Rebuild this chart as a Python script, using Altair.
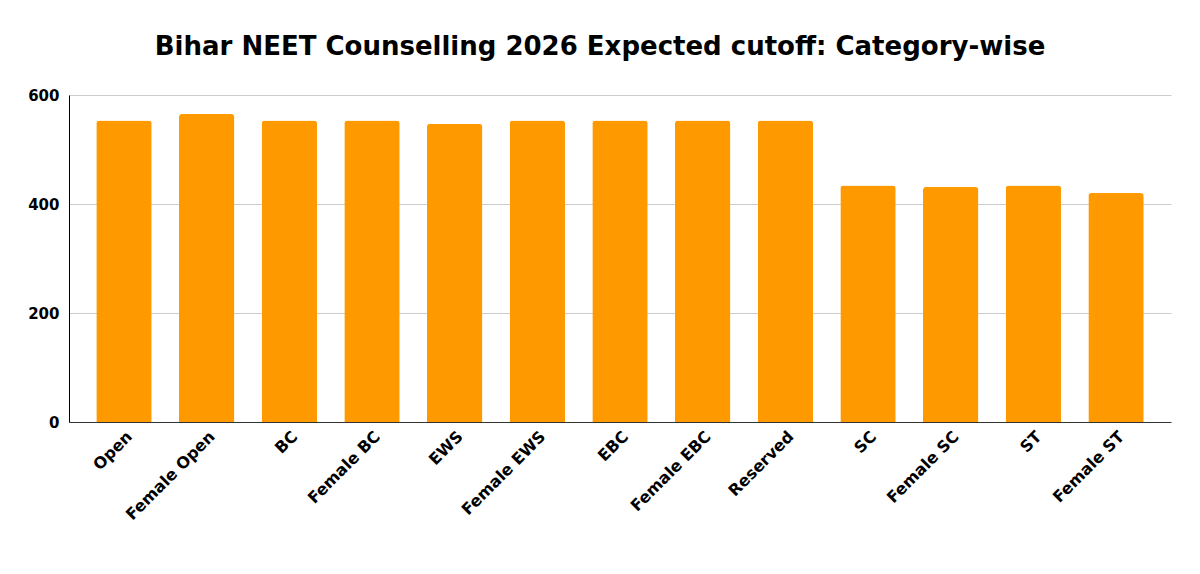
import altair as alt
import pandas as pd

categories = ["Open", "Female Open", "BC", "Female BC", "EWS", "Female EWS",
              "EBC", "Female EBC", "Reserved", "SC", "Female SC", "ST", "Female ST"]
cutoffs = [553, 565, 553, 553, 547, 553, 553, 553, 553, 434, 431, 434, 420]
y_ticks = [0, 200, 400, 600]

df = pd.DataFrame({"Category": categories, "Cutoff": cutoffs})

FONT = "DejaVu Sans"

chart = alt.Chart(df).mark_bar(
    color="#FF9900",
    cornerRadiusTopLeft=3,
    cornerRadiusTopRight=3,
).encode(
    x=alt.X("Category:N", sort=categories, title=None,
            scale=alt.Scale(paddingInner=0.33, paddingOuter=0.33),
            axis=alt.Axis(labelAngle=-45, labelFont=FONT, labelFontSize=16,
                          labelFontWeight="bold", labelColor="#000000",
                          ticks=False, labelPadding=6, domainColor="#333333",
                          domainWidth=1, grid=False, labelOverlap=False)),
    y=alt.Y("Cutoff:Q", title=None,
            scale=alt.Scale(domain=[0, 600], nice=False),
            axis=alt.Axis(values=y_ticks, labelFont=FONT, labelFontSize=15,
                          labelFontWeight="bold", labelColor="#000000",
                          ticks=False, labelPadding=10, domainColor="#000000",
                          domainWidth=1, gridColor="#cccccc", gridWidth=1)),
).properties(
    width=1102,
    height=327,
    autosize="none",
    padding={"left": 61, "top": 87, "right": 21, "bottom": 144},
    title=alt.TitleParams(
        "Bihar NEET Counselling 2026 Expected cutoff: Category-wise",
        font=FONT, fontSize=26, fontWeight="bold", color="#000000",
        anchor="middle", baseline="alphabetic", offset=7, dx=-20,
    ),
).configure_view(stroke=None)

chart.save("out.html", embed_options={"renderer": "svg", "actions": False})
